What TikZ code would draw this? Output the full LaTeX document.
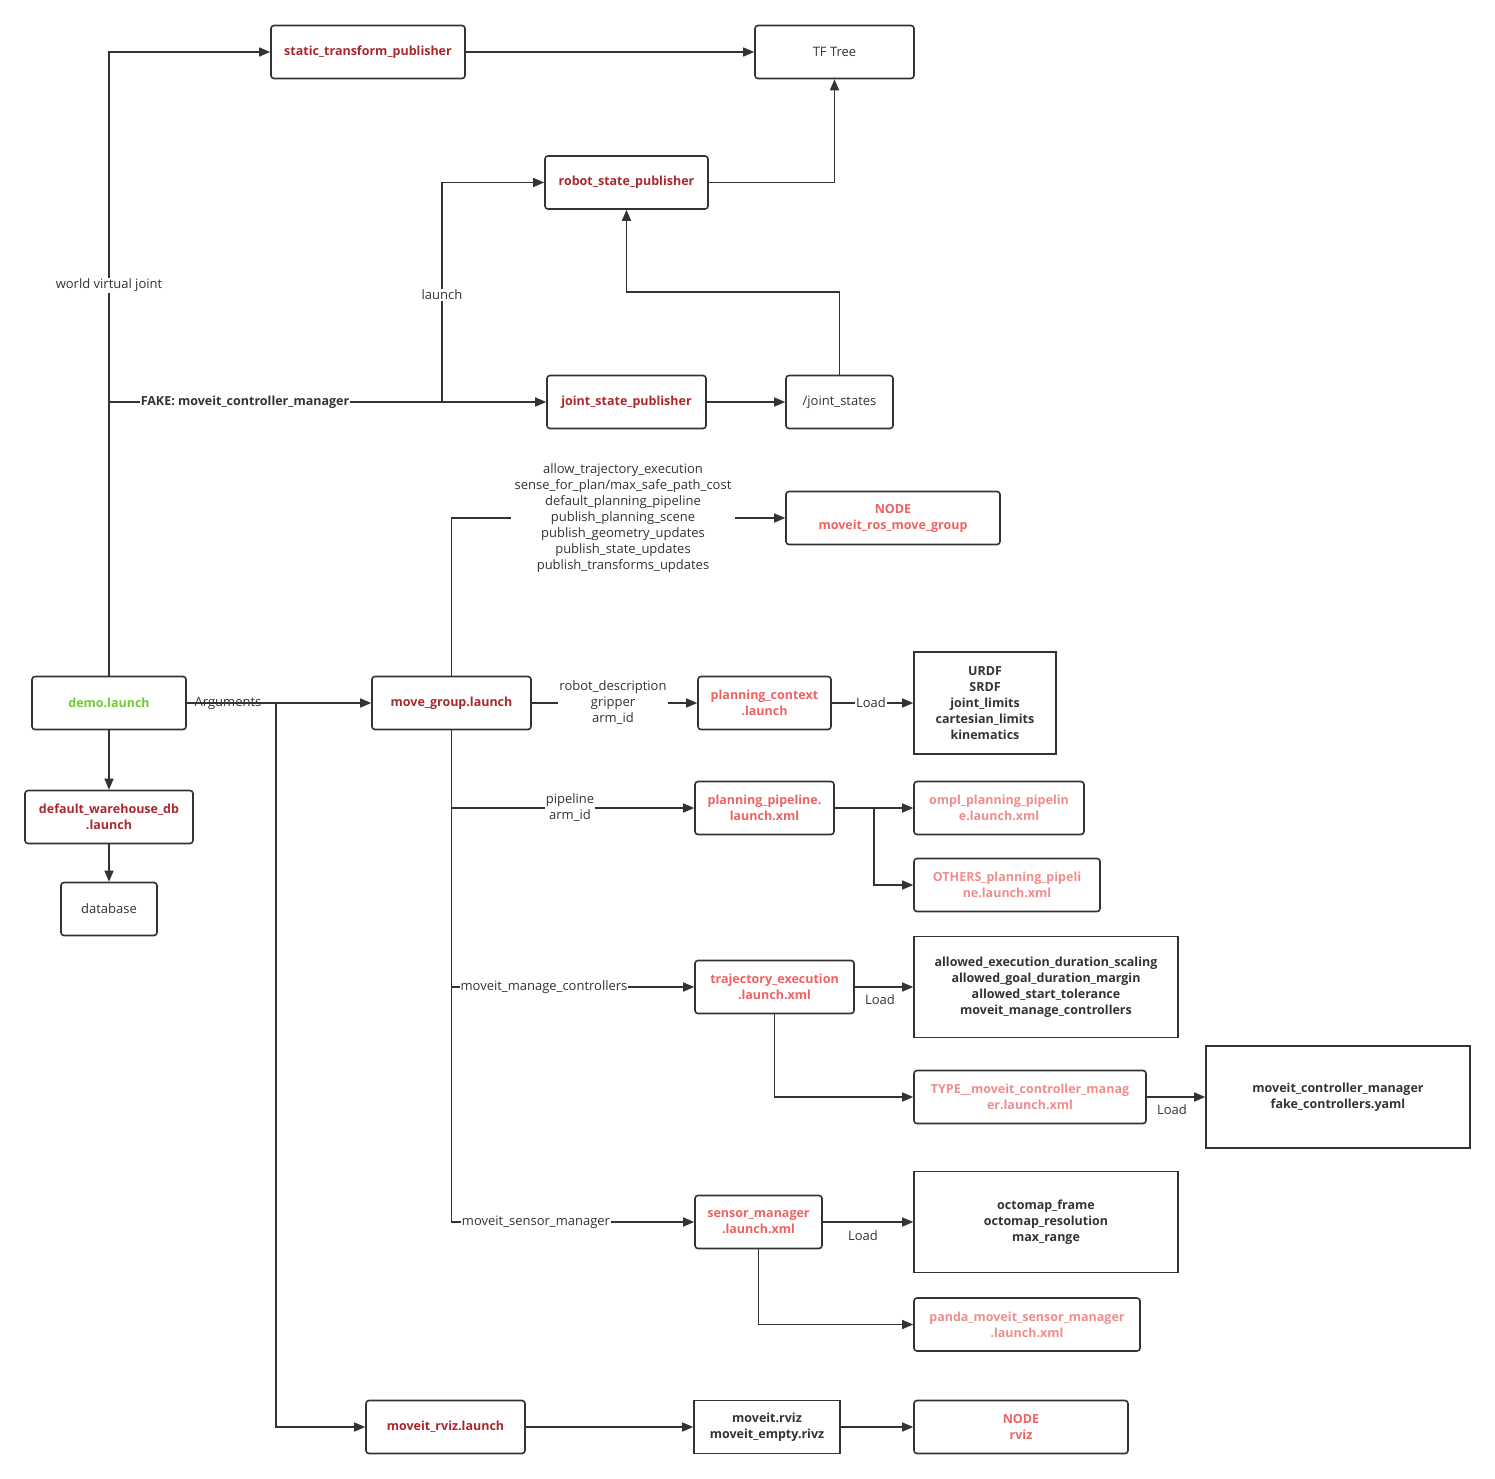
\documentclass[tikz,border=0pt]{standalone}
\usepackage{fontspec}
\setmainfont{Open Sans}
\usepackage{xcolor}
\usepackage{tikz}
\usetikzlibrary{arrows.meta,positioning}

\definecolor{linegray}{RGB}{51,51,51}
\definecolor{darkred}{RGB}{168,40,44}
\definecolor{midred}{RGB}{238,98,98}
\definecolor{palered}{RGB}{240,140,140}
\definecolor{leafgreen}{RGB}{110,204,50}

\tikzset{
  rbox/.style={draw=linegray, line width=1.6pt, rounded corners=3pt, inner sep=0pt,
    minimum height=53pt, align=center, font=\fontsize{12.5}{16}\selectfont\bfseries},
  sbox/.style={draw=linegray, line width=1.6pt, inner sep=0pt, text=linegray,
    align=center, font=\fontsize{12.5}{16}\selectfont\bfseries},
  thin text/.style={font=\fontsize{13}{16}\selectfont, text=linegray},
  link/.style={draw=linegray, line width=1.4pt, -{Triangle[length=11pt,width=9pt]}},
  tag/.style={fill=white, inner sep=1pt, align=center, font=\fontsize{13}{16}\selectfont, text=linegray},
  bare tag/.style={inner sep=1pt, align=center, font=\fontsize{13}{16}\selectfont, text=linegray},
}

\begin{document}
\begin{tikzpicture}[x=1pt, y=-1pt]
  \useasboundingbox (0,0) rectangle (1495,1478);

  % top part
  \node[rbox, text=darkred, minimum width=194] (stp) at (368,52) {static\_transform\_publisher};
  \node[rbox, thin text, minimum width=159] (tf) at (834.5,52) {TF Tree};
  \node[rbox, text=darkred, minimum width=163] (rsp) at (626.5,182.5) {robot\_state\_publisher};
  \node[rbox, text=darkred, minimum width=159] (jsp) at (626.5,402) {joint\_state\_publisher};
  \node[rbox, thin text, minimum width=107] (js) at (839.5,402) {/joint\_states};
  \node[rbox, text=midred, minimum width=214] (mrmg) at (893,518) {NODE\\moveit\_ros\_move\_group};

  % left column
  \node[rbox, text=leafgreen, minimum width=154] (demo) at (109,703) {demo.launch};
  \node[rbox, text=darkred, minimum width=168] (dwdb) at (109,817) {default\_warehouse\_db\\.launch};
  \node[rbox, thin text, minimum width=96] (db) at (109,909) {database};

  % move_group and its includes
  \node[rbox, text=darkred, minimum width=159] (mg) at (451.5,703) {move\_group.launch};
  \node[rbox, text=midred, minimum width=133] (pc) at (764.5,703) {planning\_context\\.launch};
  \node[sbox, minimum width=142, minimum height=102] (robot) at (985,703) {URDF\\SRDF\\joint\_limits\\cartesian\_limits\\kinematics};
  \node[rbox, text=midred, minimum width=139] (pp) at (764.5,808) {planning\_pipeline.\\launch.xml};
  \node[rbox, text=palered, minimum width=170] (ompl) at (999,808) {ompl\_planning\_pipelin\\e.launch.xml};
  \node[rbox, text=palered, minimum width=186] (others) at (1007,885) {OTHERS\_planning\_pipeli\\ne.launch.xml};
  \node[rbox, text=midred, minimum width=159] (te) at (774.5,987) {trajectory\_execution\\.launch.xml};
  \node[sbox, minimum width=264, minimum height=101] (teparams) at (1046,987) {allowed\_execution\_duration\_scaling\\allowed\_goal\_duration\_margin\\allowed\_start\_tolerance\\moveit\_manage\_controllers};
  \node[rbox, text=palered, minimum width=232] (tmcm) at (1030,1097) {TYPE\_\_moveit\_controller\_manag\\er.launch.xml};
  \node[sbox, minimum width=264, minimum height=102] (fake) at (1338,1097) {moveit\_controller\_manager\\fake\_controllers.yaml};
  \node[rbox, text=midred, minimum width=127] (sm) at (758.5,1222) {sensor\_manager\\.launch.xml};
  \node[sbox, minimum width=264, minimum height=101] (octo) at (1046,1222) {octomap\_frame\\octomap\_resolution\\max\_range};
  \node[rbox, text=palered, minimum width=226] (panda) at (1027,1324.5) {panda\_moveit\_sensor\_manager\\.launch.xml};

  % rviz row
  \node[rbox, text=darkred, minimum width=159] (rviz) at (445.5,1427) {moveit\_rviz.launch};
  \node[sbox, minimum width=146, minimum height=53] (rvizcfg) at (767,1427) {moveit.rviz\\moveit\_empty.rivz};
  \node[rbox, text=midred, minimum width=214] (rviznode) at (1021,1427) {NODE\\rviz};

  % branch points
  \coordinate (fakefork) at (109,402);
  \coordinate (launchfork) at (442,402);
  \coordinate (jsbend) at (626.5,292);
  \coordinate (argfork) at (276,703);
  \coordinate (ppfork) at (451.5,808);
  \coordinate (tefork) at (451.5,987);
  \coordinate (pipefork) at (874,808);

  % connectors
  \draw[link] (demo.north) |- (stp.west);
  \draw[link] (fakefork) -- (jsp.west);
  \draw[link] (launchfork) |- (rsp.west);
  \draw[link] (stp) -- (tf);
  \draw[link] (rsp.east) -| (tf.south);
  \draw[link] (jsp) -- (js);
  \draw[link] (js.north) |- (jsbend) -- (rsp.south);
  \draw[link] (demo) -- (dwdb);
  \draw[link] (dwdb) -- (db);
  \draw[link] (demo) -- (mg);
  \draw[link] (argfork) |- (rviz.west);
  \draw[link] (mg.north) |- (mrmg.west);
  \draw[link] (mg) -- (pc);
  \draw[link] (pc) -- (robot);
  \draw[link] (mg.south) |- (sm.west);
  \draw[link] (ppfork) -- (pp.west);
  \draw[link] (tefork) -- (te.west);
  \draw[link] (pp) -- (ompl);
  \draw[link] (pipefork) |- (others.west);
  \draw[link] (te) -- (teparams);
  \draw[link] (te.south) |- (tmcm.west);
  \draw[link] (tmcm) -- (fake);
  \draw[link] (sm) -- (octo);
  \draw[link] (sm.south) |- (panda.west);
  \draw[link] (rviz) -- (rvizcfg);
  \draw[link] (rvizcfg) -- (rviznode);

  % labels
  \node[tag] (wvj) at (109,285) {world virtual joint};
  \node[tag, font=\fontsize{12.5}{16}\selectfont\bfseries] (fakelbl) at (245,402) {FAKE: moveit\_controller\_manager};
  \node[tag] (launchlbl) at (442,295) {launch};
  \node[bare tag] (arglbl) at (228,703) {Arguments};
  \node[tag, inner xsep=4pt] (mgargs) at (623,518) {allow\_trajectory\_execution\\sense\_for\_plan/max\_safe\_path\_cost\\default\_planning\_pipeline\\publish\_planning\_scene\\publish\_geometry\_updates\\publish\_state\_updates\\publish\_transforms\_updates};
  \node[tag] (pcargs) at (613,703) {robot\_description\\gripper\\arm\_id};
  \node[tag] (pcload) at (871,703) {Load};
  \node[tag] (ppargs) at (570,808) {pipeline\\arm\_id};
  \node[tag] (telbl) at (544,987) {moveit\_manage\_controllers};
  \node[tag] (smlbl) at (536,1222) {moveit\_sensor\_manager};
  \node[bare tag] (teload) at (880,1000) {Load};
  \node[bare tag] (tmload) at (1172,1110) {Load};
  \node[bare tag] (smload) at (863,1236) {Load};
\end{tikzpicture}
\end{document}
